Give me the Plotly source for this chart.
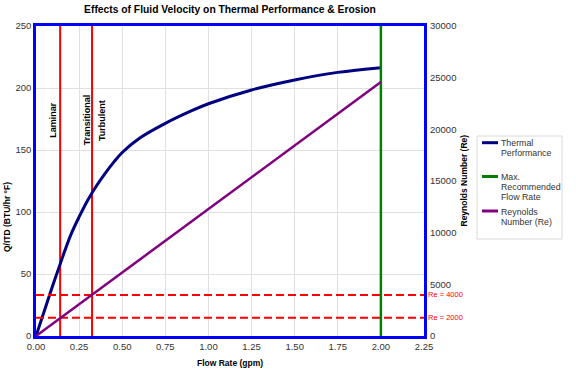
import plotly.graph_objects as go

# ---- data ----
flow = [0, 0.05, 0.10, 0.15, 0.20, 0.25, 0.30, 0.35, 0.40, 0.45, 0.50, 0.60, 0.75, 0.90, 1.00, 1.25, 1.50, 1.75, 2.00]
thermal = [0, 21, 42, 62, 81, 96, 109.5, 121, 131, 140, 148, 159.5, 171.5, 181.5, 187.3, 198.4, 206.5, 212.6, 216.4]
re_flow = [0, 2.00]
reynolds = [0, 24580]
max_flow = 2.00
laminar_x = 0.14
transitional_x = 0.325
re_limits = [1770, 3970]
re_limit_labels = ["Re = 2000", "Re = 4000"]
x_ticks = [0, 0.25, 0.5, 0.75, 1.0, 1.25, 1.5, 1.75, 2.0, 2.25]
y_ticks = [0, 50, 100, 150, 200, 250]
y2_ticks = [0, 5000, 10000, 15000, 20000, 25000, 30000]
legend_labels = [["Thermal", "Performance"], ["Max.", "Recommended", "Flow Rate"], ["Reynolds", "Number (Re)"]]
legend_colors = ["#000080", "#008000", "#800080"]

FONT = "Liberation Sans, Arial, sans-serif"
L, R, T, B, W, H = 36, 152, 26, 33, 576, 369
PW, PH = W - L - R, H - T - B


def px_x(px):
    return (px - L) / PW


def px_y(py):
    return (H - B - py) / PH


fig = go.Figure()

# dashed Re limit lines (right axis)
for v in re_limits:
    fig.add_trace(go.Scatter(x=[0, 2.25], y=[v, v], yaxis="y2", mode="lines",
                             line=dict(color="#FF0000", width=2, dash="8px,4px"),
                             showlegend=False, hoverinfo="skip"))

# red regime boundaries
for xv in [laminar_x, transitional_x]:
    fig.add_trace(go.Scatter(x=[xv, xv], y=[0, 250], mode="lines",
                             line=dict(color="#FF0000", width=2),
                             showlegend=False, hoverinfo="skip"))

fig.add_trace(go.Scatter(x=flow, y=thermal, mode="lines", name="Thermal Performance", showlegend=False,
                         line=dict(color=legend_colors[0], width=3, shape="spline", smoothing=1.0)))
fig.add_trace(go.Scatter(x=[max_flow, max_flow], y=[0, 250], mode="lines", showlegend=False,
                         name="Max. Recommended Flow Rate",
                         line=dict(color=legend_colors[1], width=2.5)))
fig.add_trace(go.Scatter(x=re_flow, y=reynolds, yaxis="y2", mode="lines", showlegend=False,
                         name="Reynolds Number (Re)",
                         line=dict(color=legend_colors[2], width=2.5)))

annotations = []
for txt, xv in [("Laminar", 0.102), ("Transitional", 0.296), ("Turbulent", 0.382)]:
    annotations.append(dict(x=xv, y=174, xref="x", yref="y", text="<b>" + txt + "</b>",
                            textangle=-90, showarrow=False, xanchor="center", yanchor="middle",
                            font=dict(size=9, color="#000000", family=FONT)))
for v, lab in zip(re_limits, re_limit_labels):
    annotations.append(dict(x=1.006, y=v, xref="paper", yref="y2", text=lab, xanchor="left",
                            yanchor="middle", showarrow=False,
                            font=dict(size=7.5, color="#FF0000", family=FONT)))
annotations.append(dict(x=0.5, y=px_y(362.7), xref="paper", yref="paper", text="<b>Flow Rate (gpm)</b>",
                        showarrow=False, xanchor="center", yanchor="middle",
                        font=dict(size=8.5, color="#000", family=FONT)))
annotations.append(dict(x=px_x(7), y=px_y(217), xref="paper", yref="paper",
                        text="<b>Q/ITD (BTU/hr °F)</b>", textangle=-90, showarrow=False,
                        xanchor="center", yanchor="middle",
                        font=dict(size=8.5, color="#000", family=FONT)))
annotations.append(dict(x=px_x(463.5), y=px_y(181), xref="paper", yref="paper",
                        text="<b>Reynolds Number (Re)</b>", textangle=-90, showarrow=False,
                        xanchor="center", yanchor="middle",
                        font=dict(size=8.5, color="#000", family=FONT)))

# custom legend
shapes = [dict(type="rect", xref="paper", yref="paper", x0=px_x(477), x1=px_x(562),
               y0=px_y(239), y1=px_y(136), line=dict(color="#D9D9D9", width=1), fillcolor="white",
               layer="above")]
first_line_y = [143, 177, 212]
symbol_y = [142.7, 176.5, 211]
for labels, color, y0, sy in zip(legend_labels, legend_colors, first_line_y, symbol_y):
    shapes.append(dict(type="line", xref="paper", yref="paper", x0=px_x(482), x1=px_x(498),
                       y0=px_y(sy), y1=px_y(sy), line=dict(color=color, width=3), layer="above"))
    for i, t in enumerate(labels):
        annotations.append(dict(x=px_x(499.5), y=px_y(y0 + 10 * i), xref="paper", yref="paper",
                                text=t, xanchor="left", yanchor="middle", showarrow=False,
                                borderpad=0, font=dict(size=8.8, color="#333333", family=FONT)))

fig.update_layout(
    width=W, height=H,
    margin=dict(l=L, r=R, t=T, b=B, autoexpand=False),
    paper_bgcolor="white", plot_bgcolor="white",
    showlegend=False,
    font=dict(family=FONT, size=9.5, color="#333333"),
    title=dict(text="<b>Effects of Fluid Velocity on Thermal Performance & Erosion</b>",
               x=(L + PW / 2) / W, xanchor="center", y=1 - 9 / H, yanchor="middle",
               font=dict(size=10.3, color="#000000", family=FONT)),
    xaxis=dict(range=[0, 2.25], tickvals=x_ticks, tickformat=".2f", automargin=False,
               showgrid=True, gridcolor="#E0E0E0", gridwidth=1,
               showline=True, linecolor="#0000FF", linewidth=2.5, mirror=True,
               zeroline=False, ticks="", tickfont=dict(size=9.5, color="#333")),
    yaxis=dict(range=[0, 250], tickvals=y_ticks, automargin=False,
               showgrid=True, gridcolor="#E0E0E0", gridwidth=1,
               showline=True, linecolor="#0000FF", linewidth=2.5, mirror=True,
               zeroline=False, ticks="", tickfont=dict(size=9.5, color="#333")),
    yaxis2=dict(range=[0, 30000], tickvals=y2_ticks, tickformat="d", overlaying="y", side="right",
                automargin=False, showgrid=False, zeroline=False, showline=False, ticks="",
                ticklabelstandoff=5, tickfont=dict(size=9.5, color="#333")),
    shapes=shapes,
    annotations=annotations,
)

fig.write_html("out.html", config={"displayModeBar": False},
               post_script="document.body.style.margin='0px';")
